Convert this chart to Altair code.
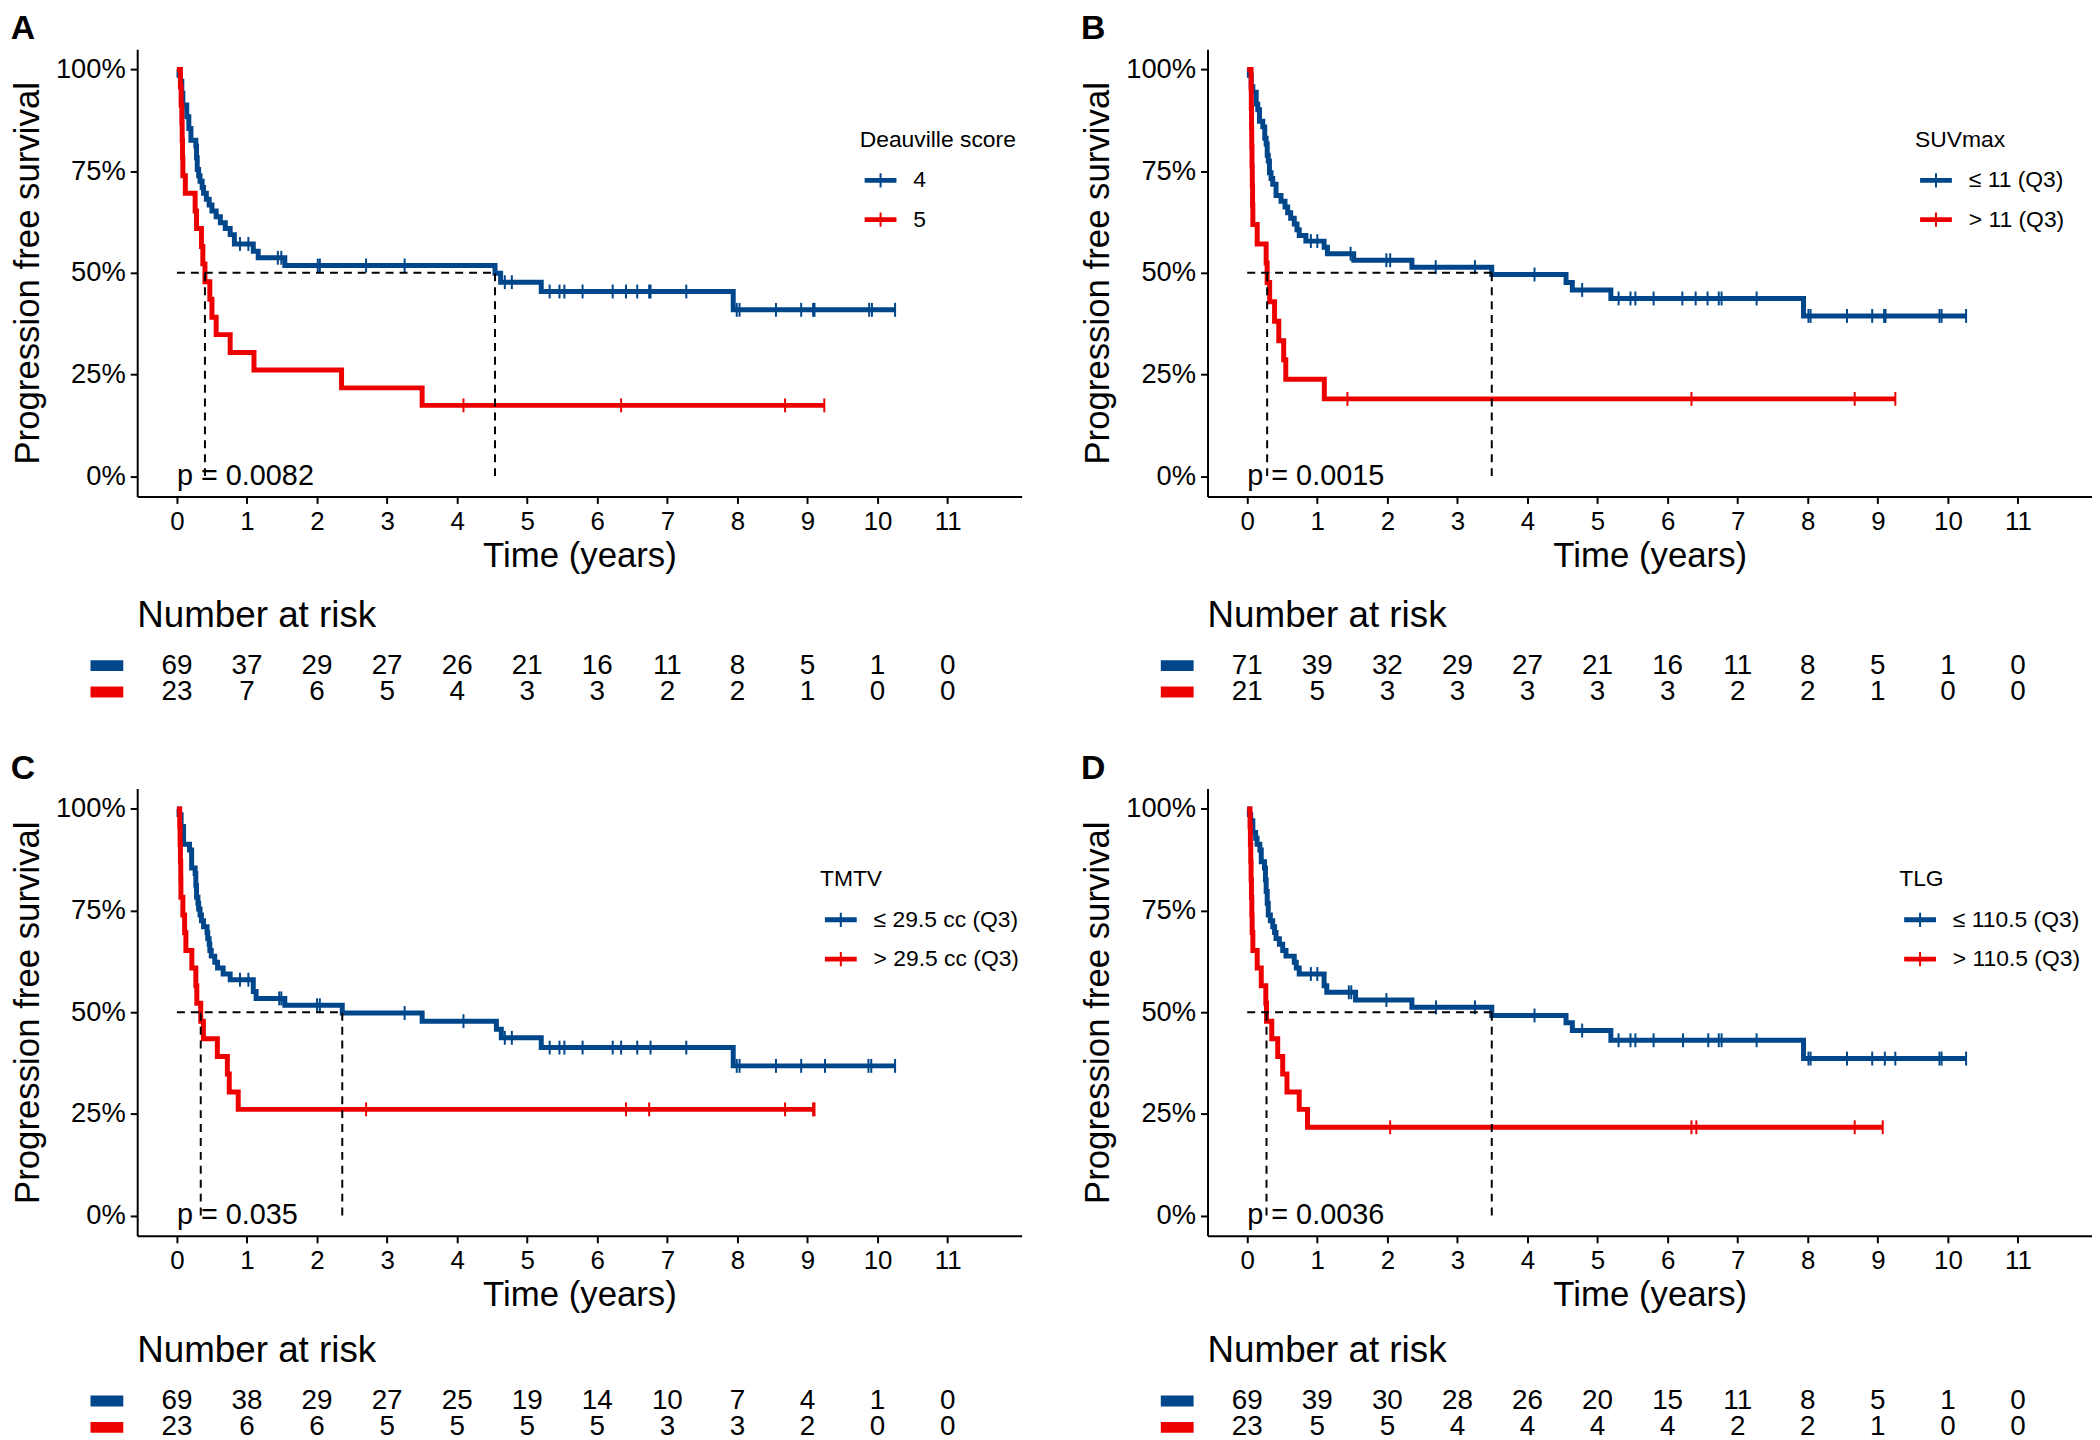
import altair as alt
import pandas as pd

FONT = "Liberation Sans"
BLUE = "#00468B"
RED = "#ED0000"
YEARS = list(range(12))

# ---------------- Panel A : Deauville score ----------------
A_LABELS = ["4", "5"]
A_LEGEND = "Deauville score"
A_P = "p = 0.0082"
A_BLUE_T = [0, 0.03, 0.05, 0.07, 0.085, 0.14, 0.17, 0.20, 0.27, 0.28, 0.29, 0.31, 0.33, 0.36, 0.38, 0.42,
            0.46, 0.50, 0.56, 0.62, 0.69, 0.76, 0.82, 1.09, 1.16, 1.54, 4.54, 4.62, 5.20, 7.94]
A_BLUE_S = [1.0, 0.986, 0.971, 0.942, 0.913, 0.884, 0.855, 0.826, 0.812, 0.783, 0.754, 0.739, 0.725, 0.710,
            0.696, 0.681, 0.667, 0.652, 0.638, 0.623, 0.609, 0.594, 0.571, 0.553, 0.537, 0.518, 0.499, 0.477,
            0.454, 0.409]
A_BLUE_C = [0.90, 1.02, 1.44, 1.49, 2.01, 2.04, 2.70, 3.25, 4.68, 4.78, 5.32, 5.46, 5.53, 5.79, 6.22, 6.41,
            6.57, 6.74, 6.76, 7.27, 7.99, 8.03, 8.55, 8.91, 9.08, 9.10, 9.88, 9.92, 10.25]
A_RED_T = [0, 0.05, 0.06, 0.07, 0.075, 0.08, 0.085, 0.12, 0.26, 0.28, 0.35, 0.37, 0.40, 0.47, 0.50, 0.56,
           0.76, 1.10, 2.35, 3.50]
A_RED_S = [1.0, 0.957, 0.913, 0.870, 0.826, 0.783, 0.739, 0.696, 0.652, 0.609, 0.565, 0.522, 0.478, 0.435,
           0.391, 0.348, 0.304, 0.261, 0.217, 0.174]
A_RED_C = [4.09, 6.34, 8.68, 9.24]
A_RISK_BLUE = [69, 37, 29, 27, 26, 21, 16, 11, 8, 5, 1, 0]
A_RISK_RED = [23, 7, 6, 5, 4, 3, 3, 2, 2, 1, 0, 0]

# ---------------- Panel B : SUVmax ----------------
B_LABELS = ["≤ 11 (Q3)", "> 11 (Q3)"]
B_LEGEND = "SUVmax"
B_P = "p = 0.0015"
B_BLUE_T = [0, 0.03, 0.057, 0.08, 0.128, 0.15, 0.175, 0.222, 0.25, 0.27, 0.285, 0.30, 0.317, 0.34, 0.364,
            0.411, 0.482, 0.539, 0.577, 0.62, 0.671, 0.71, 0.742, 0.837, 1.097, 1.144, 1.52, 2.35, 3.49,
            4.55, 4.64, 5.19, 7.94]
B_BLUE_S = [1.0, 0.986, 0.958, 0.944, 0.915, 0.901, 0.873, 0.859, 0.831, 0.817, 0.789, 0.775, 0.746, 0.732,
            0.718, 0.690, 0.676, 0.662, 0.648, 0.634, 0.620, 0.606, 0.592, 0.578, 0.563, 0.547, 0.531, 0.514,
            0.496, 0.476, 0.458, 0.437, 0.394]
B_BLUE_C = [0.908, 1.0, 1.475, 1.986, 2.04, 2.69, 3.25, 4.10, 4.78, 5.30, 5.47, 5.54, 5.80, 6.21, 6.40, 6.57,
            6.73, 6.77, 7.27, 8.01, 8.04, 8.56, 8.92, 9.09, 9.11, 9.88, 9.91, 10.26]
B_RED_T = [0, 0.055, 0.058, 0.061, 0.064, 0.068, 0.072, 0.076, 0.08, 0.142, 0.27, 0.284, 0.32, 0.39, 0.45,
           0.52, 0.55, 1.10]
B_RED_S = [1.0, 0.952, 0.905, 0.857, 0.810, 0.762, 0.714, 0.667, 0.619, 0.571, 0.524, 0.476, 0.429, 0.381,
           0.333, 0.286, 0.238, 0.190]
B_RED_C = [1.43, 6.34, 8.67, 9.25]
B_RISK_BLUE = [71, 39, 32, 29, 27, 21, 16, 11, 8, 5, 1, 0]
B_RISK_RED = [21, 5, 3, 3, 3, 3, 3, 2, 2, 1, 0, 0]

# ---------------- Panel C : TMTV ----------------
C_LABELS = ["≤ 29.5 cc (Q3)", "> 29.5 cc (Q3)"]
C_LEGEND = "TMTV"
C_P = "p = 0.035"
C_BLUE_T = [0, 0.03, 0.06, 0.095, 0.18, 0.21, 0.26, 0.27, 0.28, 0.30, 0.31, 0.33, 0.35, 0.38, 0.43, 0.44,
            0.46, 0.47, 0.49, 0.54, 0.58, 0.66, 0.76, 1.09, 1.13, 1.54, 2.36, 3.50, 4.56, 4.63, 5.20, 7.94]
C_BLUE_S = [1.0, 0.986, 0.957, 0.913, 0.899, 0.855, 0.841, 0.812, 0.783, 0.768, 0.754, 0.739, 0.725, 0.710,
            0.696, 0.681, 0.667, 0.652, 0.638, 0.623, 0.609, 0.594, 0.580, 0.551, 0.534, 0.517, 0.498, 0.478,
            0.458, 0.437, 0.413, 0.368]
C_BLUE_C = [0.90, 1.02, 1.46, 1.49, 2.0, 2.04, 3.25, 4.09, 4.68, 4.78, 5.32, 5.46, 5.53, 5.79, 6.22, 6.34,
            6.57, 6.76, 7.27, 7.99, 8.03, 8.55, 8.91, 9.25, 9.87, 9.91, 10.25]
C_RED_T = [0, 0.04, 0.045, 0.05, 0.055, 0.057, 0.085, 0.11, 0.128, 0.213, 0.27, 0.284, 0.34, 0.378, 0.577,
           0.72, 0.747, 0.875]
C_RED_S = [1.0, 0.957, 0.913, 0.870, 0.826, 0.783, 0.739, 0.696, 0.652, 0.609, 0.565, 0.522, 0.478, 0.435,
           0.391, 0.348, 0.304, 0.261]
C_RED_C = [2.70, 6.41, 6.74, 8.68, 9.08, 9.10]
C_RISK_BLUE = [69, 38, 29, 27, 25, 19, 14, 10, 7, 4, 1, 0]
C_RISK_RED = [23, 6, 6, 5, 5, 5, 5, 3, 3, 2, 0, 0]

# ---------------- Panel D : TLG ----------------
D_LABELS = ["≤ 110.5 (Q3)", "> 110.5 (Q3)"]
D_LEGEND = "TLG"
D_P = "p = 0.0036"
D_BLUE_T = [0, 0.03, 0.05, 0.08, 0.12, 0.14, 0.18, 0.20, 0.246, 0.26, 0.27, 0.285, 0.30, 0.33, 0.364, 0.39,
            0.411, 0.459, 0.506, 0.553, 0.671, 0.70, 0.742, 1.097, 1.135, 1.546, 2.35, 3.49, 4.55, 4.64,
            5.19, 7.94]
D_BLUE_S = [1.0, 0.986, 0.971, 0.942, 0.928, 0.913, 0.899, 0.870, 0.855, 0.826, 0.797, 0.768, 0.739, 0.725,
            0.710, 0.696, 0.681, 0.667, 0.652, 0.638, 0.623, 0.609, 0.594, 0.565, 0.549, 0.530, 0.512, 0.492,
            0.474, 0.455, 0.431, 0.386]
D_BLUE_C = [0.908, 1.0, 1.45, 1.485, 1.986, 2.695, 3.25, 4.10, 4.78, 5.30, 5.47, 5.54, 5.80, 6.22, 6.58,
            6.73, 6.77, 7.27, 8.01, 8.04, 8.56, 8.92, 9.10, 9.25, 9.88, 9.91, 10.26]
D_RED_T = [0, 0.04, 0.045, 0.05, 0.055, 0.06, 0.065, 0.07, 0.08, 0.142, 0.20, 0.265, 0.275, 0.35, 0.435,
           0.506, 0.567, 0.742, 0.86]
D_RED_S = [1.0, 0.957, 0.913, 0.870, 0.826, 0.783, 0.739, 0.696, 0.652, 0.609, 0.565, 0.522, 0.478, 0.435,
           0.391, 0.348, 0.304, 0.261, 0.217]
D_RED_C = [2.04, 6.34, 6.41, 8.67, 9.07]
D_RISK_BLUE = [69, 39, 30, 28, 26, 20, 15, 11, 8, 5, 1, 0]
D_RISK_RED = [23, 5, 5, 4, 4, 4, 4, 2, 2, 1, 0, 0]

# ---------------- layout / style ----------------
PLOT_W = 890
PLOT_H = 450
RISK_H = 53
X_DOMAIN = [-0.567, 12.057]
Y_DOMAIN = [-0.05, 1.05]
LEGEND_SYMBOL = "M-1,-0.09H1M-1,0H1M-1,0.09H1M0,-0.45V0.45"


def s_at(ts, ss, t):
    v = ss[0]
    for tt, s in zip(ts, ss):
        if tt <= t:
            v = s
    return v


def median(ts, ss):
    for tt, s in zip(ts, ss):
        if s <= 0.5:
            return tt
    return None


def panel(letter, labels, legend_title, pval, bt, bs, bc, rt, rs, rc, rb, rr, lx, ly, gap):
    curve_rows, cens_rows = [], []
    for lab, ts, ss, cs in [(labels[0], bt, bs, bc), (labels[1], rt, rs, rc)]:
        for i, (t, s) in enumerate(zip(ts, ss)):
            curve_rows.append({"t": t, "s": s, "g": lab, "i": i})
        curve_rows.append({"t": cs[-1], "s": ss[-1], "g": lab, "i": len(ts)})
        for c in cs:
            cens_rows.append({"t": c, "s": s_at(ts, ss, c), "g": lab})
    curves = pd.DataFrame(curve_rows)
    cens = pd.DataFrame(cens_rows)

    mb, mr = median(bt, bs), median(rt, rs)
    hline = pd.DataFrame([{"x": 0, "x2": max(mb, mr), "y": 0.5, "y2": 0.5}])
    vlines = pd.DataFrame([{"x": mb, "x2": mb, "y": 0.0, "y2": 0.5},
                           {"x": mr, "x2": mr, "y": 0.0, "y2": 0.5}])
    ptext = pd.DataFrame([{"t": 0, "s": 0, "label": pval}])

    xs = alt.Scale(domain=X_DOMAIN, nice=False, zero=False)
    ys = alt.Scale(domain=Y_DOMAIN, nice=False, zero=False)
    cscale = alt.Scale(domain=labels, range=[BLUE, RED])
    legend = alt.Legend(title=legend_title, orient="none", legendX=lx, legendY=ly,
                        symbolType=LEGEND_SYMBOL, symbolSize=1024, symbolStrokeWidth=2,
                        symbolOffset=4, labelOffset=16, titleFontSize=23, labelFontSize=23,
                        titleFontWeight="normal", titleFont=FONT, labelFont=FONT,
                        titleColor="black", labelColor="black", rowPadding=10.5, titlePadding=12,
                        padding=0, symbolOpacity=1)
    xax = alt.Axis(values=YEARS, format="d", title="Time (years)", grid=False)
    yax = alt.Axis(values=[0, 0.25, 0.5, 0.75, 1.0], format=".0%", title="Progression free survival",
                   grid=False)

    line = alt.Chart(curves).mark_line(interpolate="step-after", strokeWidth=5).encode(
        x=alt.X("t:Q", scale=xs, axis=xax),
        y=alt.Y("s:Q", scale=ys, axis=yax),
        color=alt.Color("g:N", scale=cscale, legend=legend),
        order="i:Q",
    )
    ticks = alt.Chart(cens).mark_point(shape="M0,-1V1", size=196, strokeWidth=2, filled=False,
                                       opacity=1).encode(
        x=alt.X("t:Q", scale=xs),
        y=alt.Y("s:Q", scale=ys),
        color=alt.Color("g:N", scale=cscale, legend=legend),
    )
    hl = alt.Chart(hline).mark_rule(color="black", strokeWidth=2, strokeDash=[8, 6]).encode(
        x=alt.X("x:Q", scale=xs), x2="x2", y=alt.Y("y:Q", scale=ys))
    vl = alt.Chart(vlines).mark_rule(color="black", strokeWidth=2, strokeDash=[8, 6]).encode(
        x=alt.X("x:Q", scale=xs), y=alt.Y("y:Q", scale=ys), y2="y2")
    pt = alt.Chart(ptext).mark_text(align="left", baseline="middle", fontSize=29, font=FONT,
                                    color="black").encode(
        x=alt.X("t:Q", scale=xs), y=alt.Y("s:Q", scale=ys), text="label:N")

    km = alt.layer(line, ticks, hl, vl, pt).properties(
        width=PLOT_W, height=PLOT_H,
        title=alt.TitleParams(letter, anchor="start", frame="bounds", fontSize=34, fontWeight="bold",
                              font=FONT, color="black", offset=3),
    )

    risk_rows = []
    for lab, vals in [(labels[0], rb), (labels[1], rr)]:
        for t, n in zip(YEARS, vals):
            risk_rows.append({"t": t, "g": lab, "n": str(n)})
    risk_df = pd.DataFrame(risk_rows)
    sw = pd.DataFrame({"g": labels})
    yband = alt.Scale(domain=labels, paddingInner=0, paddingOuter=0)
    txt = alt.Chart(risk_df).mark_text(fontSize=28, font=FONT, color="black", baseline="middle").encode(
        x=alt.X("t:Q", scale=xs, axis=None),
        y=alt.Y("g:N", scale=yband, axis=None),
        text="n:N",
    )
    swatch = alt.Chart(sw).mark_bar(height=11).encode(
        x=alt.value(-47), x2=alt.value(-14),
        y=alt.Y("g:N", scale=yband, axis=None),
        color=alt.Color("g:N", scale=cscale, legend=None),
    )
    risk = alt.layer(txt, swatch).properties(
        width=PLOT_W, height=RISK_H,
        title=alt.TitleParams("Number at risk", anchor="start", frame="group", fontSize=37,
                              fontWeight="normal", font=FONT, color="black", offset=17),
    )
    col = alt.vconcat(km, risk, spacing=gap, bounds="flush").resolve_scale(
        color="independent").resolve_legend(color="independent")
    return col


pA = panel("A", A_LABELS, A_LEGEND, A_P, A_BLUE_T, A_BLUE_S, A_BLUE_C, A_RED_T, A_RED_S, A_RED_C,
           A_RISK_BLUE, A_RISK_RED, 727, 80, 157)
pB = panel("B", B_LABELS, B_LEGEND, B_P, B_BLUE_T, B_BLUE_S, B_BLUE_C, B_RED_T, B_RED_S, B_RED_C,
           B_RISK_BLUE, B_RISK_RED, 712, 80, 157)
pC = panel("C", C_LABELS, C_LEGEND, C_P, C_BLUE_T, C_BLUE_S, C_BLUE_C, C_RED_T, C_RED_S, C_RED_C,
           C_RISK_BLUE, C_RISK_RED, 687, 80, 153)
pD = panel("D", D_LABELS, D_LEGEND, D_P, D_BLUE_T, D_BLUE_S, D_BLUE_C, D_RED_T, D_RED_S, D_RED_C,
           D_RISK_BLUE, D_RISK_RED, 696, 80, 153)

row1 = alt.hconcat(pA, pB, spacing=59).resolve_scale(color="independent").resolve_legend(
    color="independent")
row2 = alt.hconcat(pC, pD, spacing=59).resolve_scale(color="independent").resolve_legend(
    color="independent")

chart = alt.vconcat(row1, row2, spacing=46).resolve_scale(
    color="independent").resolve_legend(color="independent").properties(
    padding={"left": 2, "top": 0, "right": 0, "bottom": 0}
).configure_view(stroke=None).configure_axis(
    labelFont=FONT, titleFont=FONT, labelFontSize=26, titleFontSize=35, titleFontWeight="normal",
    labelColor="black", titleColor="black", domainColor="black", tickColor="black",
    domainWidth=2, tickWidth=2, tickSize=7, labelPadding=5,
).configure_axisX(titlePadding=4).configure_axisY(titlePadding=10, labelFontSize=27.5).configure_text(
    font=FONT)

chart.save("out.html", embed_options={"renderer": "svg", "actions": False})
